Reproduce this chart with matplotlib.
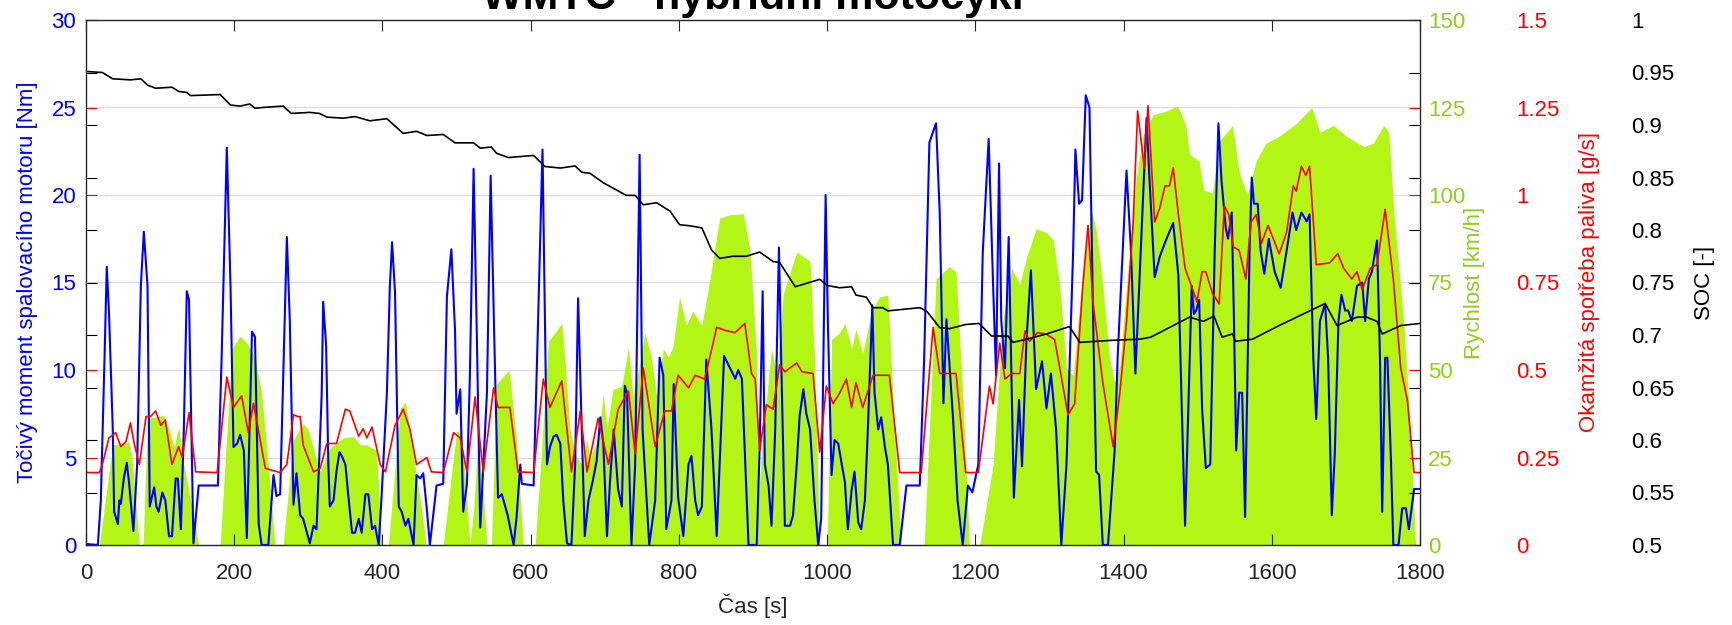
import numpy as np
import matplotlib
matplotlib.use('Agg')
import matplotlib.pyplot as plt
from matplotlib.ticker import FuncFormatter

plt.rcParams['font.family'] = ['Liberation Sans', 'DejaVu Sans']

# (cas [s], SOC [-])
soc_pts = [(0, .951), (22, .950), (36, .944), (60, .943), (74, .944), (83, .938), (94, .935),
           (116, .936), (125, .932), (136, .931), (141, .928), (181, .929), (195, .919),
           (208, .918), (221, .920), (228, .916), (244, .917), (266, .918), (277, .911),
           (302, .912), (315, .911), (325, .9075), (347, .9065), (363, .908), (383, .904),
           (406, .906), (428, .892), (446, .894), (460, .890), (482, .891), (498, .883),
           (523, .883), (532, .878), (547, .879), (554, .873), (570, .869), (604, .871),
           (619, .8605), (640, .859), (660, .861), (669, .855), (680, .854), (698, .845),
           (716, .838), (729, .833), (741, .833), (752, .824), (770, .826), (788, .818),
           (801, .805), (815, .804), (831, .802), (844, .781), (855, .773), (873, .775),
           (891, .775), (909, .779), (927, .770), (936, .769), (957, .746), (990, .753),
           (1001, .747), (1017, .745), (1033, .746), (1039, .738), (1053, .736), (1062, .726),
           (1075, .726), (1082, .723), (1125, .726), (1134, .723), (1152, .707), (1165, .706),
           (1187, .710), (1205, .711), (1222, .699), (1244, .699), (1251, .693), (1269, .696),
           (1296, .701), (1327, .708), (1341, .693), (1386, .695), (1422, .696), (1437, .698),
           (1489, .717), (1508, .713), (1522, .718), (1533, .698), (1547, .701), (1551, .694),
           (1574, .696), (1610, .709), (1672, .730), (1688, .709), (1715, .717), (1728, .717),
           (1742, .713), (1749, .701), (1774, .709), (1800, .711)]

# (cas [s], rychlost [km/h])
speed_pts = [(0, 0), (18, 0), (36, 28.6), (51, 29), (58, 29.6), (63, 23), (72, 0), (77, 0),
             (83, 36.2), (105, 37), (112, 33.2), (119, 28), (125, 33.7), (132, 23), (143, 10.7),
             (152, 0), (181, 0), (197, 56.1), (208, 59.7), (217, 57.7), (228, 53.6), (237, 43.4),
             (246, 23), (255, 0), (266, 0), (280, 30.1), (293, 34.7), (300, 33), (309, 26),
             (316, 21), (329, 27.6), (347, 30.6), (361, 31), (370, 28.6), (379, 28.6), (392, 27),
             (396, 12), (399, 0), (408, 0), (424, 39), (431, 40.8), (437, 33), (444, 23),
             (451, 12.8), (459, 0), (482, 0), (500, 32.6), (507, 32), (514, 12.8), (518, 0),
             (523, 10), (529, 30), (536, 15), (541, 0), (547, 0), (554, 46), (571, 50), (581, 30),
             (590, 0), (606, 0), (614, 25), (624, 58.2), (642, 63.3), (646, 53.6), (653, 33.2),
             (660, 26), (669, 23), (676, 30.1), (680, 25), (691, 30.1), (698, 42.9), (703, 33.2),
             (711, 44.4), (723, 45.4), (732, 56.6), (738, 42.3), (747, 51.5), (754, 60.7),
             (763, 53.6), (770, 42.3), (779, 56.1), (786, 53.6), (792, 56.6), (801, 70.9),
             (810, 62.8), (819, 66.8), (831, 62.8), (842, 76), (855, 93.4), (869, 94.4),
             (887, 94.6), (896, 84.2), (905, 53.6), (907, 12.8), (914, 33.2), (925, 56.1),
             (932, 48.5), (941, 71.9), (959, 83.7), (977, 81.1), (983, 53.6), (990, 0), (1000, 0),
             (1006, 58.7), (1017, 60.7), (1024, 63.3), (1033, 56.1), (1039, 61.7), (1048, 54.6),
             (1060, 66.8), (1071, 70.9), (1082, 71.4), (1091, 33.2), (1100, 0), (1131, 0),
             (1147, 76), (1165, 79.6), (1174, 78), (1183, 43.4), (1192, 0), (1206, 0), (1224, 23),
             (1237, 63.8), (1249, 79.1), (1260, 74.5), (1269, 82.1), (1282, 90.3), (1296, 89.3),
             (1305, 87.2), (1314, 74), (1323, 50.5), (1332, 48.5), (1341, 68.9), (1352, 89.3),
             (1356, 96.4), (1363, 90.3), (1372, 74), (1381, 53.6), (1388, 46.4), (1395, 51.5),
             (1404, 74), (1417, 104.6), (1426, 116.8), (1440, 123), (1458, 124), (1473, 125.5),
             (1484, 119.9), (1489, 111.7), (1502, 109.7), (1508, 101.5), (1520, 100.5),
             (1529, 115.3), (1547, 119.9), (1556, 106.6), (1567, 100), (1579, 109.7),
             (1592, 114.8), (1610, 116.8), (1633, 120.4), (1654, 125), (1665, 117.9),
             (1683, 119.9), (1701, 116.8), (1724, 113.8), (1737, 114.8), (1751, 119.9),
             (1758, 117.9), (1765, 94.4), (1778, 63.8), (1787, 33.2), (1794, 0), (1800, 0)]

# (cas [s], spotreba [g/s])
fuel_pts = [(0, .207), (18, .207), (22, .23), (31, .306), (40, .321), (47, .281), (54, .296),
            (60, .349), (65, .291), (72, .23), (81, .367), (87, .367), (94, .383), (101, .342),
            (107, .357), (116, .23), (125, .281), (130, .25), (139, .378), (148, .209), (177, .207),
            (190, .48), (199, .393), (210, .426), (219, .321), (226, .405), (242, .219), (262, .207),
            (271, .23), (280, .372), (286, .367), (289, .367), (293, .286), (307, .209), (316, .219),
            (325, .29), (338, .29), (350, .388), (356, .383), (368, .311), (374, .332), (379, .306),
            (386, .337), (397, .23), (404, .209), (417, .342), (428, .388), (437, .332), (446, .23),
            (460, .25), (466, .209), (482, .207), (496, .321), (505, .306), (514, .209), (525, .423),
            (536, .209), (550, .449), (556, .393), (572, .393), (583, .209), (604, .207), (617, .474),
            (626, .393), (642, .469), (655, .209), (667, .383), (676, .209), (691, .362), (705, .23),
            (718, .388), (732, .439), (741, .26), (752, .505), (768, .281), (781, .383), (790, .383),
            (799, .485), (813, .449), (822, .485), (835, .474), (851, .622), (864, .612),
            (876, .607), (889, .633), (898, .49), (903, .474), (909, .27), (918, .401), (927, .388),
            (936, .515), (943, .495), (959, .52), (966, .495), (981, .49), (990, .265), (999, .454),
            (1008, .404), (1017, .434), (1026, .474), (1033, .393), (1039, .464), (1048, .393),
            (1062, .485), (1084, .485), (1098, .207), (1127, .207), (1143, .622), (1152, .49),
            (1174, .49), (1187, .207), (1204, .207), (1219, .454), (1224, .403), (1233, .577),
            (1240, .474), (1249, .49), (1260, .49), (1267, .612), (1273, .582), (1284, .607),
            (1296, .602), (1307, .587), (1314, .505), (1325, .372), (1334, .403), (1345, .74),
            (1352, .913), (1359, .689), (1372, .464), (1386, .281), (1395, .434), (1404, .638),
            (1413, .923), (1419, 1.24), (1428, 1.077), (1433, 1.255), (1442, .923), (1449, .964),
            (1456, 1.026), (1462, 1.026), (1467, 1.077), (1474, .944), (1483, .791), (1490, .75),
            (1499, .694), (1506, .781), (1511, .781), (1520, .719), (1529, .689), (1536, .969),
            (1542, .944), (1548, .852), (1556, .842), (1565, .76), (1572, .923), (1579, .944),
            (1586, .862), (1595, .913), (1610, .832), (1620, .893), (1629, 1.026), (1633, 1.011),
            (1640, 1.082), (1646, 1.056), (1651, 1.082), (1660, .801), (1678, .806), (1689, .832),
            (1697, .791), (1708, .76), (1715, .781), (1722, .73), (1733, .791), (1742, .801),
            (1753, .959), (1764, .76), (1774, .505), (1783, .413), (1790, .25), (1792, .207),
            (1800, .207)]

# (cas [s], tocivy moment [Nm])
torque_pts = [(0, .06), (16, 0), (20, 2.55), (25, 10.7), (28, 15.9), (31, 13.3), (36, 6.8),
              (38, 1.9), (43, 1.2), (45, 2.55), (47, 2.35), (51, 3.8), (55, 4.7), (58, 3.6),
              (64, .8), (69, 4.6), (74, 14.8), (78, 17.9), (83, 14.8), (86, 2.2), (92, 3.3),
              (95, 2.2), (98, 1.9), (103, 3.0), (107, 2.55), (112, .5), (116, .5), (121, 3.8),
              (124, 3.8), (128, .9), (132, 6.6), (136, 14.5), (139, 14.0), (145, .1), (152, 3.4),
              (178, 3.4), (183, 10.7), (190, 22.7), (195, 14.8), (199, 5.6), (204, 5.8), (208, 6.3),
              (213, 5.4), (217, .4), (224, 12.2), (228, 11.9), (233, 1.2), (237, 0), (246, 0),
              (253, 4.0), (257, 2.8), (262, 2.9), (271, 17.6), (275, 12.8), (280, 2.3), (284, 4.1),
              (289, 1.7), (293, 1.5), (302, .1), (307, 1.1), (311, .9), (313, 3.0), (318, 8.6),
              (320, 13.9), (324, 11.4), (327, 4.6), (329, 2.2), (334, 2.55), (338, 4.2), (342, 5.3),
              (345, 5.1), (350, 4.6), (354, 2.8), (359, .7), (363, .7), (368, 1.5), (372, .7),
              (377, 2.9), (381, 2.9), (386, .9), (390, 1.1), (395, 0), (399, 2.9), (406, 8.7),
              (410, 14.8), (413, 17.3), (417, 14.4), (422, 2.2), (426, 1.9), (431, 1.1), (435, 1.5),
              (442, 0), (446, 4.0), (451, 3.8), (455, 4.1), (460, 2.0), (464, 0), (473, 3.4),
              (482, 3.5), (487, 14.2), (493, 16.9), (498, 12.2), (500, 7.5), (505, 8.9), (509, 1.9),
              (514, 3.5), (518, 9.7), (523, 21.5), (527, 12.8), (532, 1.0), (541, 8.7), (546, 21.1),
              (552, 9.8), (556, 2.7), (561, 2.9), (565, 2.3), (569, 1.7), (577, 0), (581, 1.6),
              (586, 4.6), (588, 3.5), (604, 3.4), (610, 12.8), (616, 22.6), (622, 4.6), (626, 5.6),
              (631, 6.2), (635, 6.3), (640, 5.8), (644, 2.55), (649, .1), (655, 0), (660, 4.6),
              (664, 14.1), (669, 6.6), (673, .5), (678, 2.55), (684, 3.7), (689, 4.8), (694, 7.3),
              (698, 5.8), (703, .5), (707, 3.6), (712, 6.6), (718, 3.2), (723, 2.2), (727, 9.1),
              (730, 8.7), (736, 0), (741, 4.6), (747, 22.3), (751, 6.6), (760, 0), (768, 2.55),
              (774, 10.7), (779, 9.7), (783, .9), (790, 2.55), (793, 9.2), (799, 2.7), (806, .5),
              (813, 4.6), (817, 5.1), (822, 2.55), (826, 1.7), (831, 2.2), (837, 10.6), (844, 6.6),
              (851, .5), (861, 10.8), (869, 10.1), (876, 9.5), (880, 10.0), (885, 9.5), (894, 0),
              (905, 0), (909, 5.6), (913, 14.5), (916, 4.6), (921, 3.4), (925, 1.1), (930, 6.6),
              (935, 17), (938, 10.7), (943, 1.1), (950, 1.1), (954, 1.7), (959, 4.6), (963, 7.4),
              (968, 8.9), (972, 7.5), (977, 6.6), (983, 2.55), (988, 0), (992, 1.5), (998, 20),
              (1001, 12.8), (1006, 4.0), (1010, 6.0), (1015, 5.8), (1019, 4.8), (1024, 3.6),
              (1028, .9), (1033, 3.1), (1037, 4.2), (1042, 1.3), (1046, .9), (1051, 2.55),
              (1055, 6.6), (1061, 13.7), (1064, 8.7), (1069, 6.6), (1073, 7.3), (1078, 5.6),
              (1082, 4.6), (1089, 0), (1098, 0), (1107, 3.4), (1125, 3.4), (1131, 10.7), (1138, 23),
              (1147, 24.1), (1152, 18.9), (1157, 8.1), (1161, 12.9), (1170, 7.2), (1176, 2.55),
              (1183, 0), (1190, 3.4), (1196, 3.0), (1204, 4.6), (1210, 16.7), (1218, 23.2),
              (1224, 14.8), (1228, 9.7), (1232, 21.8), (1235, 12.8), (1240, 10.1), (1245, 17.6),
              (1252, 2.7), (1259, 8.3), (1263, 4.5), (1269, 11.7), (1275, 15.7), (1282, 8.9),
              (1290, 10.5), (1296, 7.8), (1302, 9.8), (1309, 6.6), (1316, 0), (1323, 4.6),
              (1332, 16.8), (1335, 22.6), (1340, 19.5), (1344, 19.7), (1349, 25.7), (1354, 25),
              (1359, 12.8), (1363, 4.2), (1367, 4.0), (1372, 0), (1379, 0), (1388, 5.4),
              (1392, 10.7), (1404, 21.4), (1410, 16.8), (1416, 9.8), (1424, 17.6), (1431, 24.4),
              (1435, 20.9), (1442, 15.3), (1449, 16.5), (1458, 17.5), (1467, 18.4), (1474, 15.4),
              (1478, 8.7), (1483, 1.1), (1488, 8.7), (1492, 14.8), (1495, 13.2), (1498, 13.4),
              (1502, 14.0), (1506, 7.8), (1511, 4.4), (1517, 4.6), (1523, 16.8), (1528, 24.1),
              (1532, 20.9), (1538, 18.1), (1541, 17.5), (1546, 19.0), (1549, 12.8), (1552, 5.4),
              (1556, 8.7), (1560, 8.7), (1564, 1.6), (1570, 16.8), (1573, 21.0), (1576, 19.5),
              (1581, 19.5), (1585, 16.8), (1590, 15.5), (1596, 17.5), (1604, 15.6), (1612, 14.7),
              (1620, 16.8), (1628, 19.0), (1633, 18.0), (1640, 19.0), (1647, 18.5), (1651, 18.9),
              (1656, 10.7), (1660, 7.2), (1665, 12.8), (1672, 13.8), (1676, 10.7), (1681, 1.7),
              (1685, 5.2), (1690, 12.8), (1694, 14.3), (1699, 13.4), (1703, 13.4), (1708, 12.8),
              (1715, 14.8), (1722, 15.0), (1726, 12.8), (1731, 15.2), (1735, 15.6), (1742, 17.4),
              (1746, 10.7), (1749, 1.9), (1753, 10.7), (1756, 10.7), (1761, 4.6), (1764, 0),
              (1771, 0), (1776, 2.1), (1781, 2.1), (1785, .9), (1792, 3.2), (1800, 3.2)]

x_ticks = list(range(0, 1801, 200))
torque_ticks = [0, 5, 10, 15, 20, 25, 30]
speed_ticks = [0, 25, 50, 75, 100, 125, 150]
fuel_ticks = [0, 0.25, 0.5, 0.75, 1, 1.25, 1.5]
soc_ticks = [0.5, 0.55, 0.6, 0.65, 0.7, 0.75, 0.8, 0.85, 0.9, 0.95, 1]

GREEN_FILL = '#b3f514'
GREEN_TXT = '#8fce1c'
DARK = '#262626'
FS = 16

soc_t, soc = np.array(soc_pts).T
sp_t, sp = np.array(speed_pts).T
fu_t, fu = np.array(fuel_pts).T
tq_t, tq = np.array(torque_pts).T

W, H = 1733, 625
fig = plt.figure(figsize=(W / 100, H / 100), dpi=100)
ax = fig.add_axes([86 / W, 1 - 545 / H, 1334 / W, 525 / H])  # torque
ax_v = ax.twinx()   # rychlost
ax_f = ax.twinx()   # spotreba
ax_s = ax.twinx()   # SOC

# vrstveni: rychlost dole, pak moment, spotreba, SOC
ax_v.set_zorder(0)
ax.set_zorder(1)
ax_f.set_zorder(2)
ax_s.set_zorder(3)
ax_v.patch.set_visible(True)
ax_v.patch.set_facecolor('white')
ax.patch.set_visible(False)

ax_v.fill_between(sp_t, 0, sp, color=GREEN_FILL, lw=0)
ax.plot(tq_t, tq, color='blue', lw=1.5)
ax_f.plot(fu_t, fu, color='red', lw=1.2)
ax_s.plot(soc_t, soc, color='black', lw=1.2)

ax.set_xlim(0, 1800)
ax.set_ylim(0, 30)
ax_v.set_ylim(0, 150)
ax_f.set_ylim(0, 1.5)
ax_s.set_ylim(0.5, 1)

# mrizka za vyplni
ax_v.set_axisbelow(True)
ax_v.set_xticks(x_ticks)
ax_v.xaxis.grid(True, color='#e4e4e4', lw=0.9)
ax_v.set_yticks(speed_ticks)
ax_v.yaxis.grid(True, color='#dadaf8', lw=0.9)

for a in (ax, ax_v, ax_f, ax_s):
    for sp_ in a.spines.values():
        sp_.set_visible(False)
for sp_ in ax_s.spines.values():
    sp_.set_visible(True)
    sp_.set_color(DARK)
    sp_.set_linewidth(1.0)

fmt = FuncFormatter(lambda v, p: '%g' % round(v, 2))

ax.set_xticks(x_ticks)
ax.tick_params(axis='x', which='both', direction='in', top=True, bottom=True,
               length=8, color=DARK, labelcolor=DARK, labelsize=FS, pad=13)
ax.set_yticks(torque_ticks)
ax.tick_params(axis='y', length=0, labelcolor='blue', labelsize=FS, pad=7)

ax_v.tick_params(axis='y', length=0, labelcolor=GREEN_TXT, labelsize=FS, pad=6)

ax_f.set_yticks(fuel_ticks)
ax_f.yaxis.set_major_formatter(fmt)
ax_f.tick_params(axis='y', left=True, right=True, direction='in', length=8, color='red',
                 labelcolor='red', labelsize=FS, pad=69)

ax_s.set_yticks(soc_ticks)
ax_s.yaxis.set_major_formatter(fmt)
ax_s.tick_params(axis='y', left=True, right=True, direction='in', length=8, color='black',
                 labelcolor='black', labelsize=FS, pad=152)

ax.set_ylabel('Točivý moment spalovacího motoru [Nm]', color='blue', fontsize=FS, va='center')
ax.yaxis.set_label_coords(-0.0435, 0.5)
ax_v.set_ylabel('Rychlost [km/h]', color=GREEN_TXT, fontsize=FS, va='center')
ax_v.yaxis.set_label_coords(1.0405, 0.5)
ax_f.set_ylabel('Okamžitá spotřeba paliva [g/s]', color='red', fontsize=FS, va='center')
ax_f.yaxis.set_label_coords(1.1274, 0.5)
ax_s.set_ylabel('SOC [-]', color='black', fontsize=FS, va='center')
ax_s.yaxis.set_label_coords(1.2136, 0.5)
ax.set_xlabel('Čas [s]', color=DARK, fontsize=FS, va='center')
ax.xaxis.set_label_coords(0.5, -0.1162)

fig.text((86 + 1420) / 2 / W, 1 - 9 / H, 'WMTC - hybridní motocykl', ha='center',
         va='baseline', fontsize=31, fontweight='bold')

fig.savefig('out.png', dpi=100)
